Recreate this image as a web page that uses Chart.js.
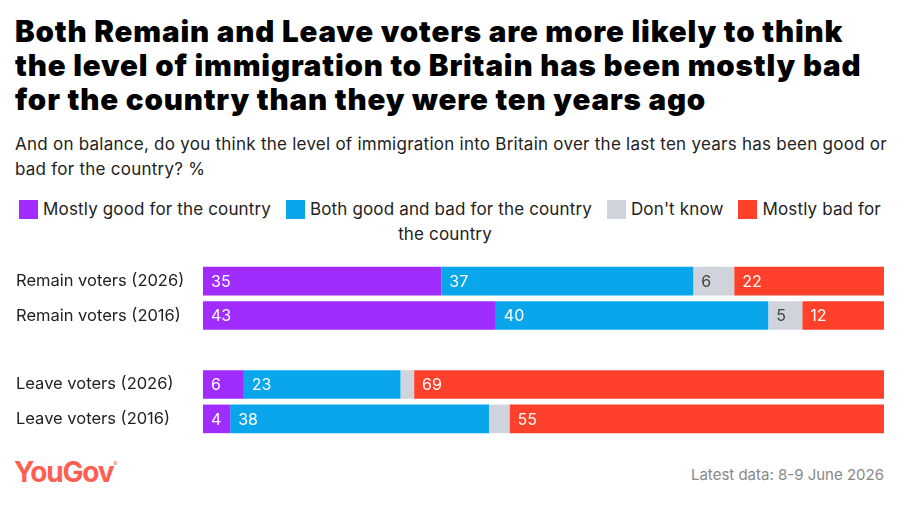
<!DOCTYPE html>
<html>
<head>
<meta charset="utf-8">
<script src="https://cdn.jsdelivr.net/npm/chart.js@4"></script>
<style>
  body { margin: 0; width: 900px; height: 505px; background: #fff; font-family: Inter, sans-serif; color: #222; position: relative; overflow: hidden; }
  h1 { position: absolute; left: 15px; top: 14px; width: 875px; margin: 0; font-size: 29.5px; line-height: 34px; font-weight: 900; color: #000; letter-spacing: 0.85px; }
  .sub { position: absolute; left: 15px; top: 132px; width: 875px; font-size: 17px; line-height: 25px; letter-spacing: 0.25px; }
  .legend { position: absolute; left: 14px; top: 197px; width: 872px; text-align: center; font-size: 17px; line-height: 25px; letter-spacing: 0.15px; }
  .legend .sw { display: inline-block; width: 19px; height: 19px; vertical-align: -4px; margin-right: 5px; }
  .legend .item { margin-right: 10px; }
  #wrap { position: absolute; left: 0; top: 254px; width: 900px; height: 192px; }
  .logo { position: absolute; left: 14px; top: 455px; font-size: 28px; font-weight: 700; color: #ff5f52; letter-spacing: -1.2px; }
  .logo sup { font-size: 6px; font-weight: 400; vertical-align: 16px; }
  .date { position: absolute; right: 16px; top: 465px; font-size: 15px; color: #888; }
</style>
</head>
<body>
<h1>Both Remain and Leave voters are more likely to think the level of immigration to Britain has been mostly bad for the country than they were ten years ago</h1>
<div class="sub">And on balance, do you think the level of immigration into Britain over the last ten years has been good or bad for the country? %</div>
<div class="legend" id="legend"></div>
<div id="wrap"><canvas id="chart"></canvas></div>
<div class="logo">YouGov<sup>®</sup></div>
<div class="date">Latest data: 8-9 June 2026</div>
<script>
const groups = ["Remain voters (2026)", "Remain voters (2016)", "", "Leave voters (2026)", "Leave voters (2016)"];
const seriesNames = ["Mostly good for the country", "Both good and bad for the country", "Don't know", "Mostly bad for the country"];
const mostlyGood = [35, 43, null, 6, 4];
const goodAndBad = [37, 40, null, 23, 38];
const dontKnow = [6, 5, null, 2, 3];
const mostlyBad = [22, 12, null, 69, 55];
const colors = ["#a02cff", "#0aa6ec", "#cfd3dc", "#ff412c"];
const labelColors = ["#fff", "#fff", "#444", "#fff"];

// html legend so the last item can wrap onto a second line
const legend = document.getElementById("legend");
legend.innerHTML = seriesNames.map((name, i) =>
  `<span class="item"><span class="sw" style="background:${colors[i]}"></span>${name}</span>`
).join(" ");

const barLabels = {
  id: "barLabels",
  afterDatasetsDraw(chart) {
    const ctx = chart.ctx;
    ctx.save();
    ctx.font = "16px Inter";
    ctx.textBaseline = "middle";
    chart.data.datasets.forEach((ds, i) => {
      chart.getDatasetMeta(i).data.forEach((bar, j) => {
        const v = ds.data[j];
        if (v == null || v < 4) return;
        ctx.fillStyle = labelColors[i];
        ctx.fillText(v, bar.base + 8, bar.y + 1);
      });
    });
    ctx.restore();
  }
};

new Chart(document.getElementById("chart"), {
  type: "bar",
  data: {
    labels: groups,
    datasets: [mostlyGood, goodAndBad, dontKnow, mostlyBad].map((d, i) => ({
      label: seriesNames[i],
      data: d,
      backgroundColor: colors[i],
      borderWidth: 0,
      barPercentage: 0.83,
      categoryPercentage: 1
    }))
  },
  options: {
    indexAxis: "y",
    responsive: true,
    maintainAspectRatio: false,
    animation: false,
    layout: { padding: { left: 16, right: 16, top: 8, bottom: 9 } },
    scales: {
      x: { stacked: true, min: 0, max: 100, display: false },
      y: {
        stacked: true,
        grid: { display: false },
        border: { display: false },
        afterFit(scale) { scale.width = 187; },
        ticks: { crossAlign: "far", color: "#222", padding: 0, font: { family: "Inter", size: 16.5 } }
      }
    },
    plugins: {
      legend: { display: false },
      tooltip: { enabled: false }
    }
  },
  plugins: [barLabels]
});
</script>
</body>
</html>
